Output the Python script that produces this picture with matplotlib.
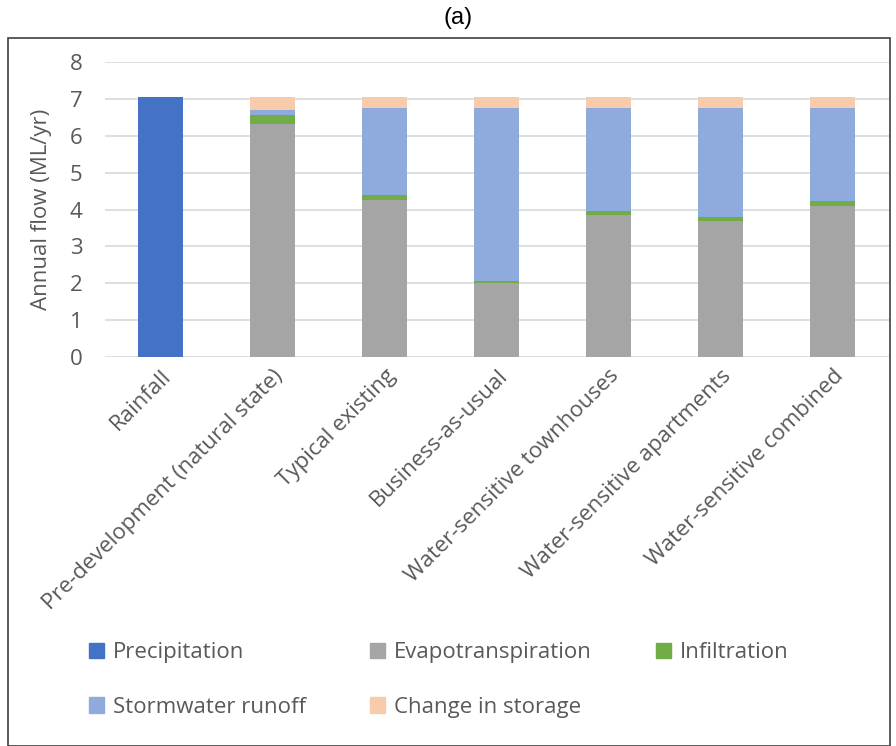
import matplotlib.pyplot as plt
import numpy as np
from matplotlib.patches import Rectangle, Patch

plt.rcParams['font.family'] = ['Open Sans', 'DejaVu Sans']

categorias = ["Rainfall", "Pre-development (natural state)", "Typical existing",
              "Business-as-usual", "Water-sensitive townhouses",
              "Water-sensitive apartments", "Water-sensitive combined"]
precipitacao = [7.05, 0, 0, 0, 0, 0, 0]
evapotranspiracao = [0, 6.32, 4.25, 2.00, 3.85, 3.68, 4.10]
infiltracao = [0, 0.23, 0.15, 0.05, 0.12, 0.13, 0.14]
escoamento = [0, 0.16, 2.34, 4.71, 2.77, 2.93, 2.50]
armazenamento = [0, 0.34, 0.31, 0.29, 0.31, 0.31, 0.31]

series = [("Precipitation", precipitacao, "#4472C4"),
          ("Evapotranspiration", evapotranspiracao, "#A5A5A5"),
          ("Infiltration", infiltracao, "#70AD47"),
          ("Stormwater runoff", escoamento, "#8FAADC"),
          ("Change in storage", armazenamento, "#F8CBAD")]

cinza = "#595959"
fs = 16

fig = plt.figure(figsize=(8.96, 7.46), dpi=100)
ax = fig.add_axes([0.117, 0.5214, 0.875, 0.3955])

x = np.arange(len(categorias))
base = np.zeros(len(categorias))
handles = {}
for nome, vals, cor in series:
    vals = np.array(vals)
    ax.bar(x, vals, width=0.4, bottom=base, color=cor, zorder=3)
    base += vals
    handles[nome] = Patch(color=cor, label=nome)

ax.set_ylim(0, 8)
ax.set_xlim(-0.5, len(categorias) - 0.5)
ax.set_yticks(range(0, 9))
ax.yaxis.grid(True, color="#D9D9D9", linewidth=1.2, zorder=0)
for s in ax.spines.values():
    s.set_visible(False)
ax.tick_params(axis='both', length=0, colors=cinza, labelsize=fs)
ax.tick_params(axis='y', pad=16)
ax.tick_params(axis='x', pad=6)
ax.set_xticks(x)
ax.set_xticklabels(categorias, rotation=45, ha='right', rotation_mode='anchor')
ax.set_ylabel("Annual flow (ML/yr)", color=cinza, fontsize=fs)
ax.yaxis.set_label_coords(-0.068, 0.5)

# ordem para preencher por linhas com ncol=3
ordem = ["Precipitation", "Stormwater runoff", "Evapotranspiration",
         "Change in storage", "Infiltration"]
fig.legend(handles=[handles[n] for n in ordem], loc='upper left',
           bbox_to_anchor=(0.089, 0.151), ncol=3, frameon=False, fontsize=fs,
           labelcolor=cinza, handlelength=0.7, handleheight=0.7,
           handletextpad=0.4, columnspacing=2.86, labelspacing=1.5,
           borderaxespad=0)

fig.patches.append(Rectangle((8 / 896, 0.0), 882 / 896, 1 - 38 / 746,
                             transform=fig.transFigure, fill=False,
                             edgecolor="#404040", linewidth=1.2))
fig.text(458 / 896, 1 - 18 / 746, "(a)", ha='center', va='center',
         fontsize=17, family='Liberation Sans')

fig.savefig("out.png", dpi=100)
